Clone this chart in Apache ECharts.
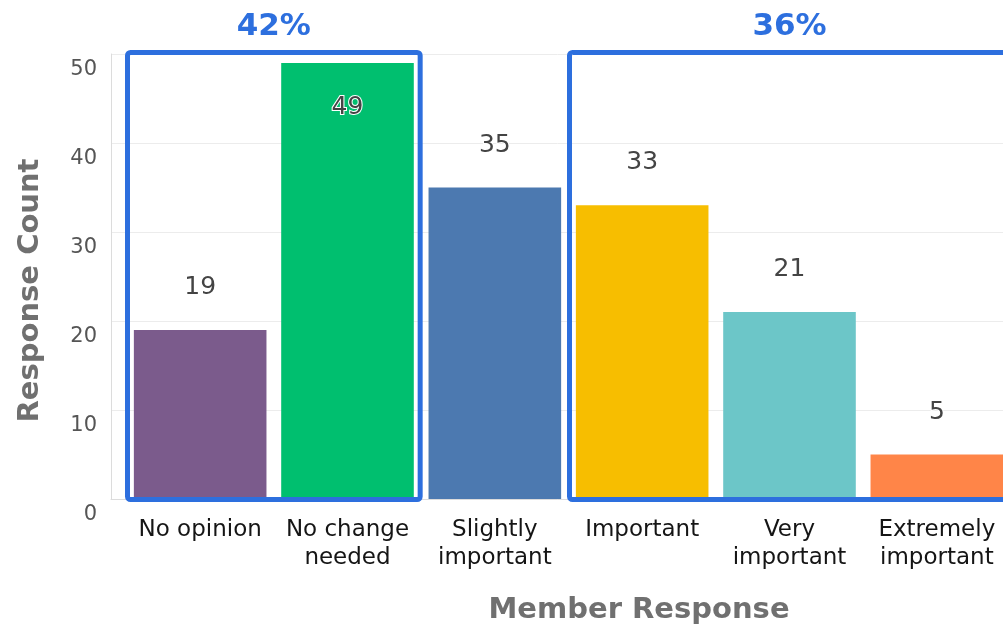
<!DOCTYPE html>
<html>
<head>
<meta charset="utf-8">
<script src="https://cdn.jsdelivr.net/npm/echarts@6/dist/echarts.min.js"></script>
<style>
  html, body { margin: 0; padding: 0; background: #fff; }
  #chart { width: 1003px; height: 628px; }
</style>
</head>
<body>
<div id="chart"></div>
<script>
// Survey answers and their counts
const categories = ['No opinion', 'No change\nneeded', 'Slightly\nimportant', 'Important', 'Very\nimportant', 'Extremely\nimportant'];
const responseCounts = [19, 49, 35, 33, 21, 5];
const barColors = ['#7B5B8C', '#00BF6F', '#4C79B0', '#F7BE00', '#6CC6C8', '#FF8548'];

// Value axis range
const yMin = 0;
const yMax = 50;
const yStep = 10;

// Answer groups (category index ranges) outlined with their share of all answers
const groupStart = [0, 3];
const groupEnd = [1, 5];

const total = responseCounts.reduce((a, b) => a + b, 0);
const groupShare = groupStart.map((s, i) => {
  let sum = 0;
  for (let k = s; k <= groupEnd[i]; k++) sum += responseCounts[k];
  return Math.round(sum / total * 100);
});

const accent = '#2D6FDE';
const titleStyle = { color: '#707070', fontSize: 29, fontWeight: 'bold', fontFamily: 'DejaVu Sans' };
const chart = echarts.init(document.getElementById('chart'));

chart.setOption({
  animation: false,
  backgroundColor: '#fff',
  grid: [
    // frame for the value axis, gridlines and axis titles (runs past the right edge)
    { left: 111, width: 1056, top: 54, bottom: 129, outerBoundsMode: 'none', containLabel: false },
    // frame for the bars (its last band is cut by the right edge)
    { left: 126.5, width: 884, top: 54, bottom: 129, outerBoundsMode: 'none', containLabel: false }
  ],
  xAxis: [
    {
      gridIndex: 0, type: 'value', min: 0, max: 1,
      axisLine: { show: true, lineStyle: { color: '#dcdcdc', width: 1 } },
      axisTick: { show: false }, axisLabel: { show: false }, splitLine: { show: false },
      name: 'Member Response', nameLocation: 'middle', nameGap: 97,
      nameTextStyle: titleStyle
    },
    {
      gridIndex: 1, type: 'category', data: categories,
      axisLine: { show: false }, axisTick: { show: false },
      axisLabel: { interval: 0, margin: 17, color: '#151515', fontSize: 23, lineHeight: 28, fontFamily: 'DejaVu Sans' }
    }
  ],
  yAxis: [
    {
      gridIndex: 0, type: 'value', min: yMin, max: yMax, interval: yStep,
      axisLine: { show: true, lineStyle: { color: '#dcdcdc', width: 1 } },
      axisTick: { show: false },
      splitLine: { show: true, lineStyle: { color: '#ececec', width: 1 } },
      axisLabel: {
        margin: 14, color: '#555', fontSize: 21, fontFamily: 'DejaVu Sans',
        verticalAlign: 'top', lineHeight: 32
      },
      name: 'Response Count', nameLocation: 'middle', nameGap: 66,
      nameTextStyle: Object.assign({}, titleStyle, { padding: [0, 28, 0, 0] })
    },
    { gridIndex: 1, type: 'value', min: yMin, max: yMax, interval: yStep, show: false }
  ],
  series: [
    {
      type: 'bar', xAxisIndex: 1, yAxisIndex: 1,
      barCategoryGap: '10%',
      data: responseCounts.map((v, i) => {
        const item = { value: v, itemStyle: { color: barColors[i] } };
        // labels for bars reaching the top of the axis sit inside the bar
        if (v > yMax - 6) item.label = { position: 'insideTop', distance: 32 };
        return item;
      }),
      label: {
        show: true, position: 'top', distance: 30,
        color: '#444', fontSize: 25, fontFamily: 'DejaVu Sans',
        textBorderColor: '#fff', textBorderWidth: 2
      }
    },
    {
      type: 'custom', xAxisIndex: 1, yAxisIndex: 1, z: 10, silent: true,
      data: groupStart.map((s, i) => [s, groupEnd[i], groupShare[i]]),
      renderItem: function (params, api) {
        const s = api.value(0), e = api.value(1), pct = api.value(2);
        const band = api.size([1, 0])[0];
        const x0 = api.coord([s, yMin])[0] - band / 2;
        const x1 = api.coord([e, yMin])[0] + band / 2;
        const yTop = api.coord([s, yMax])[1] - 1.5;
        const yBot = api.coord([s, yMin])[1] + 0.5;
        return {
          type: 'group',
          children: [
            {
              type: 'rect',
              shape: { x: x0 + 1, y: yTop, width: x1 - x0 - 2, height: yBot - yTop, r: 3 },
              style: { fill: 'none', stroke: accent, lineWidth: 5 }
            },
            {
              type: 'text',
              x: (x0 + x1) / 2, y: yTop - 26,
              style: {
                text: pct + '%', fill: accent,
                font: 'bold 31px "DejaVu Sans"',
                align: 'center', verticalAlign: 'middle'
              }
            }
          ]
        };
      }
    }
  ]
});
</script>
</body>
</html>
